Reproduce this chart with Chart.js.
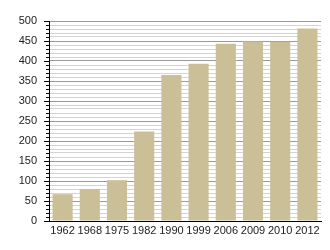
<!DOCTYPE html>
<html>
<head>
<meta charset="utf-8">
<script src="https://cdn.jsdelivr.net/npm/chart.js@4/dist/chart.umd.min.js"></script>
<style>
  html, body { margin: 0; padding: 0; background: #fff; }
  #wrap { width: 330px; height: 250px; }
</style>
</head>
<body>
<div id="wrap"><canvas id="popChart"></canvas></div>
<script>
var years = ['1962', '1968', '1975', '1982', '1990', '1999', '2006', '2009', '2010', '2012']
var population = [67, 80, 102, 224, 365, 393, 443, 449, 448, 481]
var yMax = 500

// small tick marks on the y axis: long every 50, short every 10
var yTickMarks = {
    id: 'yTickMarks',
    afterDraw: function (chart) {
        var y = chart.scales.y
        var c = chart.ctx
        c.save()
        c.strokeStyle = '#000'
        c.lineWidth = 1
        y.ticks.forEach(function (t) {
            var py = Math.round(y.getPixelForValue(t.value)) + 0.5
            var len = t.value % 50 === 0 ? 5 : 3
            c.beginPath()
            c.moveTo(y.right - len, py)
            c.lineTo(y.right, py)
            c.stroke()
        })
        c.restore()
    }
}

var ctx = document.getElementById('popChart')
var chart = new Chart(ctx, {
    type: 'bar',
    data: {
        labels: years,
        datasets: [{
            data: population,
            backgroundColor: '#cbbf97',
            borderWidth: 0,
            barPercentage: 0.74,
            categoryPercentage: 1
        }]
    },
    options: {
        responsive: true,
        maintainAspectRatio: false,
        animation: false,
        layout: { autoPadding: false, padding: { top: 21, right: 9, left: 0, bottom: 0 } },
        plugins: { legend: { display: false }, tooltip: { enabled: false } },
        scales: {
            x: {
                grid: { display: false, drawTicks: false },
                border: { color: '#000', width: 1 },
                ticks: { color: '#222', padding: 3, font: { family: 'Liberation Sans', size: 11 }, maxRotation: 0, autoSkip: false },
                afterFit: function (s) { s.height = 29 }
            },
            y: {
                min: 0,
                max: yMax,
                grid: {
                    drawTicks: false,
                    color: function (c) { return c.tick && c.tick.value % 50 === 0 ? '#9a9a9a' : '#d4d4d4' }
                },
                border: { color: '#000', width: 1 },
                ticks: {
                    stepSize: 10,
                    autoSkip: false,
                    padding: 12,
                    color: '#222',
                    font: { family: 'Liberation Sans', size: 11 },
                    callback: function (v) { return v % 50 === 0 ? v : '' }
                },
                afterFit: function (s) { s.width = 49 }
            }
        }
    },
    plugins: [yTickMarks]
})
</script>
</body>
</html>
